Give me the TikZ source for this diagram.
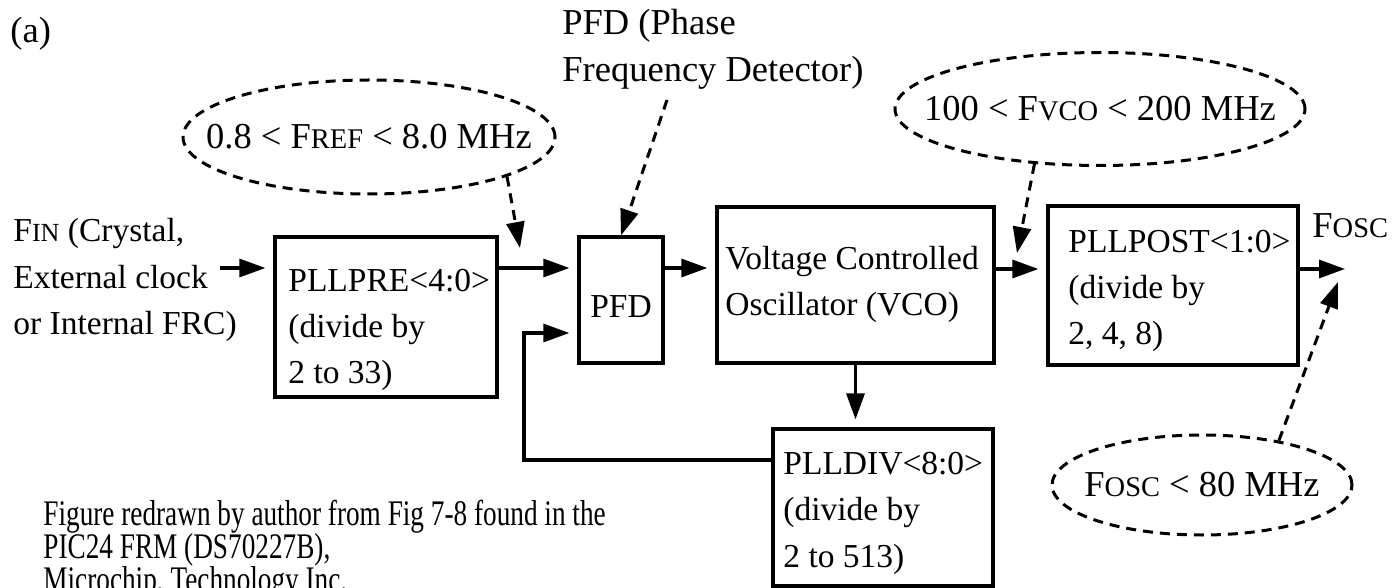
\documentclass[tikz,border=0pt]{standalone}
\usepackage{fontspec}
\setmainfont{Liberation Serif}
\usetikzlibrary{shapes.geometric,arrows.meta}
\newcommand{\smc}[1]{\scalebox{0.78}{#1}}
\newcommand{\capx}[1]{\scalebox{0.757}[1]{#1}}
\begin{document}
\begin{tikzpicture}[x=0.5pt,y=-0.5pt,
  box/.style={draw,line width=1.6pt,inner sep=0pt},
  txt/.style={inner sep=0pt,anchor=base west,align=left,font=\fontsize{16.75pt}{23.25pt}\selectfont},
  lbl/.style={inner sep=0pt,anchor=base west,align=left,font=\fontsize{18.25pt}{23.5pt}\selectfont},
  oval/.style={ellipse,draw,line width=1.5pt,dash pattern=on 5pt off 3.5pt,inner sep=0pt,font=\fontsize{18.25pt}{23.5pt}\selectfont},
  tip/.style={-{Triangle[length=13pt,width=9pt]}},
  arr/.style={line width=1.6pt,tip,shorten >=4pt},
  darr/.style={line width=1.5pt,dash pattern=on 5pt off 3.5pt,tip},
]
\useasboundingbox (0,0) rectangle (1393,588);

% label (a)
\node[lbl] (tag) at (10,43) {(a)};

% boxes
\node[box,minimum width=111pt,minimum height=80pt] (pre) at (386,317) {};
\node[box,minimum width=42pt,minimum height=63pt] (pfd) at (621,300) {};
\node[box,minimum width=138.5pt,minimum height=78pt] (vco) at (855.5,285) {};
\node[box,minimum width=125pt,minimum height=79.5pt] (post) at (1173,285.5) {};
\node[box,minimum width=110pt,minimum height=78.5pt] (div) at (883,507.5) {};

% box texts (anchored at the baseline of the last line)
\node[txt] (pret) at (288,384) {PLLPRE<4:0>\\(divide by\\2 to 33)};
\node[txt,anchor=base] (pfdt) at (621,318) {PFD};
\node[txt] (vcot) at (725,316) {Voltage Controlled\\Oscillator (VCO)};
\node[txt] (postt) at (1068,345) {PLLPOST<1:0>\\(divide by\\2, 4, 8)};
\node[txt] (divt) at (783,567) {PLLDIV<8:0>\\(divide by\\2 to 513)};

% side labels
\node[txt] (fin) at (13,335) {F\smc{IN} (Crystal,\\External clock\\or Internal FRC)};
\node[lbl] (fosc) at (1312,238) {F\smc{OSC}};
\node[lbl] (pfdl) at (562,82) {PFD (Phase\\Frequency Detector)};

% ellipses (text does not enlarge the shape)
\node[oval,minimum width=186pt,minimum height=57pt] (e1) at (369,137) {\makebox[0pt]{0.8 < F\smc{REF} < 8.0 MHz}};
\node[oval,minimum width=205pt,minimum height=56.5pt] (e2) at (1100,109) {\makebox[0pt]{100 < F\smc{VCO} < 200 MHz}};
\node[oval,minimum width=150pt,minimum height=50pt] (e3) at (1202,485) {\makebox[0pt]{F\smc{OSC} < 80 MHz}};

% helper coordinates
\coordinate (r1) at (0,268);
\coordinate (r2) at (0,269);
\coordinate (finend) at (220,268);
\coordinate (out) at (1345,269);
\coordinate (fb) at (524,460);
\coordinate (fbup) at (524,333);
\coordinate (t1) at (520,248);
\coordinate (s2) at (667,100);
\coordinate (t3) at (1017,253);
\coordinate (t4) at (1338,282);

% solid connectors
\draw[arr] (finend) -- (pre.west |- r1);
\draw[arr] (pre.east |- r1) -- (pfd.west |- r1);
\draw[arr] (pfd.east |- r1) -- (vco.west |- r1);
\draw[arr] (vco.east |- r2) -- (post.west |- r2);
\draw[line width=1.6pt,tip] (post.east |- r2) -- (out);
\draw[arr] (vco.south) -- (vco.south |- div.north);
\draw[arr] (div.west |- fb) -- (fb) -- (fbup) -- (pfd.west |- fbup);

% dashed connectors
\draw[darr] (e1.-16) -- (t1);
\draw[darr] (s2) -- (pfd.north);
\draw[darr] (e2.-140) -- (t3);
\draw[darr] (e3.30) -- (t4);

% caption
\begin{scope}
\clip (0,0) rectangle (1393,588);
\node[inner sep=0pt,anchor=base west,align=left,font=\fontsize{18pt}{16.5pt}\selectfont] (cap) at (43,591)
  {\capx{Figure redrawn by author from Fig 7-8 found in the}\\\capx{PIC24 FRM (DS70227B),}\\\capx{Microchip, Technology Inc.}};
\end{scope}
\end{tikzpicture}
\end{document}
